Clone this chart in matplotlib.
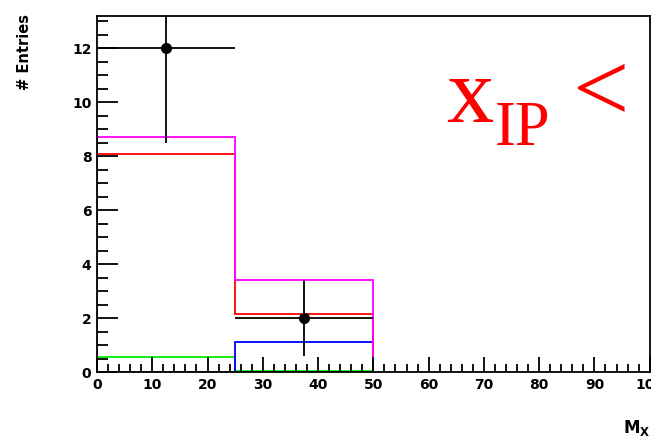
import matplotlib
matplotlib.use("Agg")
import matplotlib.pyplot as plt
from matplotlib.ticker import MultipleLocator

# bin edges of the M_X histogram
edges = [0, 25, 50]

# data points
data_x = [12.5, 37.5]
data_y = [12, 2]
data_xerr = [12.5, 12.5]
data_yerr = [3.5, 1.4]

# stacked / component histograms
magenta_vals = [8.7, 3.4]
red_vals = [8.1, 2.15]
blue_vals = [0.0, 1.1]
green_vals = [0.55, 0.05]

plt.rcParams['font.family'] = ['DejaVu Sans']
plt.rcParams['mathtext.fontset'] = 'dejavusans'

fig = plt.figure(figsize=(6.51, 4.40), dpi=100)
ax = fig.add_axes([0.149, 0.1545, 0.849, 0.809])

ax.stairs(green_vals, edges, color='#00ee00', lw=1.3, baseline=0)
ax.stairs(blue_vals, edges, color='#0000ff', lw=1.3, baseline=0)
ax.stairs(red_vals, edges, color='#ff0000', lw=1.3, baseline=0)
ax.stairs(magenta_vals, edges, color='#ff00ff', lw=1.3, baseline=0)

ax.errorbar(data_x, data_y, xerr=data_xerr, yerr=data_yerr, fmt='o',
            color='black', ms=7, elinewidth=1.3, capsize=0, zorder=5)

ax.set_xlim(0, 100)
ax.set_ylim(0, 13.2)

ax.xaxis.set_major_locator(MultipleLocator(10))
ax.xaxis.set_minor_locator(MultipleLocator(2))
ax.yaxis.set_major_locator(MultipleLocator(2))
ax.yaxis.set_minor_locator(MultipleLocator(0.5))
ax.tick_params(which='major', direction='in', length=11, width=1.3,
               labelsize=10, top=False, right=False)
ax.tick_params(axis='y', which='major', length=15)
ax.tick_params(which='minor', direction='in', length=6, width=1.3,
               top=False, right=False)
ax.tick_params(axis='y', which='minor', length=8)
ax.tick_params(axis='x', pad=4)
ax.tick_params(axis='y', pad=4)
for lab in ax.get_xticklabels() + ax.get_yticklabels():
    lab.set_fontweight('bold')
for sp in ax.spines.values():
    sp.set_linewidth(1.3)

fig.text(25 / 651, 1 - 52 / 440, '# Entries', rotation=90, fontsize=10.5,
         fontweight='bold', ha='center', va='center')
fig.text(637 / 651, 1 - 428 / 440, r'$\mathbf{M_X}$', fontsize=12,
         ha='center', va='center')

# red label "x_IP <" drawn in pieces so the subscript sits low like the original
serif = 'Liberation Serif'
fig.text(446 / 651, 1 - 122 / 440, 'x', fontsize=68, color='#ff0000',
         family=serif, ha='left', va='baseline')
fig.text(495 / 651, 1 - 145 / 440, 'IP', fontsize=45, color='#ff0000',
         family=serif, ha='left', va='baseline')
fig.text(573 / 651, 1 - 121 / 440, '<', fontsize=72, color='#ff0000',
         family=serif, ha='left', va='baseline')

fig.savefig('out.png', dpi=100)
